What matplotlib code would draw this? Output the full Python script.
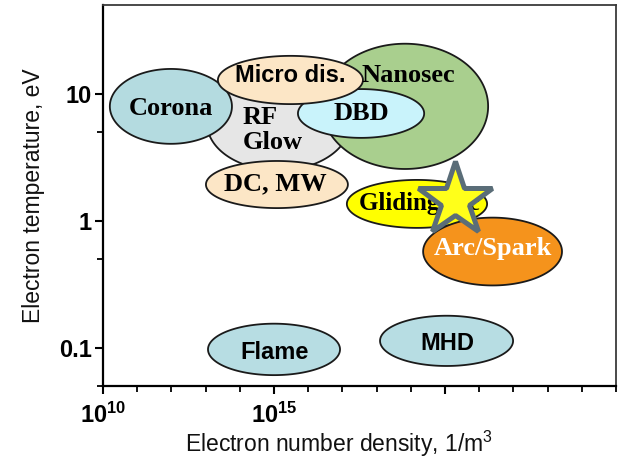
import numpy as np
import matplotlib.pyplot as plt
from matplotlib.ticker import FixedLocator, FixedFormatter, NullFormatter

plt.rcParams['mathtext.fontset'] = 'custom'
plt.rcParams['mathtext.rm'] = 'Liberation Sans'
plt.rcParams['mathtext.bf'] = 'Liberation Sans:bold'

# Discharge regions: electron density range (log10 of 1/m^3) and temperature range (eV)
regions = ['RF Glow', 'Nanosec', 'DBD', 'Corona', 'Micro dis.', 'DC, MW',
           'Gliding arc', 'Arc/Spark', 'Flame', 'MHD']
n_lo = [13.04, 16.40, 15.70, 10.20, 13.36, 13.01, 17.13, 19.36, 13.07, 18.10]
n_hi = [17.22, 21.26, 19.39, 13.77, 17.60, 17.16, 21.23, 23.42, 16.93, 21.99]
T_lo = [2.5, 2.56, 4.5, 4.04, 8.3, 1.26, 0.88, 0.31, 0.061, 0.072]
T_hi = [13.9, 24.8, 10.9, 15.7, 19.9, 2.96, 2.1, 1.06, 0.155, 0.179]
fills = ['#e6e6e6', '#a9cf8e', '#c9f3fb', '#b4dbe0', '#fce6c6', '#fce6c6',
         '#ffff00', '#f5931c', '#b7dde3', '#b7dde3']

# label text, anchor (log10 n, T), colour, serif or sans
labels = ['RF\nGlow', 'Nanosec', 'DBD', 'Corona', 'Micro dis.', 'DC, MW',
          'Gliding arc', 'Arc/Spark', 'Flame', 'MHD']
label_n = [14.09, 18.92, 17.54, 11.99, 15.47, 15.03, 19.25, 21.40, 15.03, 20.06]
label_T = [5.2, 13.9, 6.97, 7.6, 13.9, 1.95, 1.36, 0.61, 0.0914, 0.109]
label_color = ['k', 'k', 'k', 'k', 'k', 'k', 'k', 'white', 'k', 'k']
label_serif = [True, True, True, True, False, True, True, True, False, False]

# highlighted operating point
star_n = 20.29
star_T = 1.46

fig = plt.figure(figsize=(6.19, 4.58), dpi=100)
ax = fig.add_axes([0.1664, 0.157, 0.8288, 0.832])
ax.set_xscale('log')
ax.set_yscale('log')
ax.set_xlim(1e10, 1e25)
ax.set_ylim(0.05, 50)

t = np.linspace(0, 2 * np.pi, 300)
for i in range(len(regions)):
    cx = (n_lo[i] + n_hi[i]) / 2
    a = (n_hi[i] - n_lo[i]) / 2
    cy = (np.log10(T_lo[i]) + np.log10(T_hi[i])) / 2
    b = (np.log10(T_hi[i]) - np.log10(T_lo[i])) / 2
    ax.fill(10 ** (cx + a * np.cos(t)), 10 ** (cy + b * np.sin(t)),
            facecolor=fills[i], edgecolor='#1a1a1a', linewidth=1.3, zorder=2 + i)

for i in range(len(labels)):
    fam = 'Liberation Serif' if label_serif[i] else 'Liberation Sans'
    size = 19 if label_serif[i] else 17
    if labels[i] == 'Gliding arc':
        size = 18
    ha = 'left' if labels[i] == 'RF\nGlow' else 'center'
    ax.text(10 ** label_n[i], label_T[i], labels[i], family=fam, weight='bold',
            fontsize=size, color=label_color[i], ha=ha, va='center',
            linespacing=1.1, zorder=20 if labels[i] == 'Gliding arc' else 30)

ax.plot(10 ** star_n, star_T, marker='*', markersize=56, markerfacecolor='#ffff1a',
        markeredgecolor='#5a6d78', markeredgewidth=3.6, zorder=25, clip_on=False)

# axes styling
ax.xaxis.set_major_locator(FixedLocator([1e10, 1e15, 1e20]))
ax.xaxis.set_major_formatter(FixedFormatter([r'$\mathbf{10^{10}}$', r'$\mathbf{10^{15}}$', '']))
ax.xaxis.set_minor_locator(FixedLocator([10.0 ** k for k in range(11, 26) if k not in (15, 20)]))
ax.xaxis.set_minor_formatter(NullFormatter())
ax.yaxis.set_major_locator(FixedLocator([0.1, 1, 10]))
ax.yaxis.set_major_formatter(FixedFormatter(['0.1', '1', '10']))
ax.yaxis.set_minor_locator(FixedLocator([0.05, 0.5, 5]))
ax.yaxis.set_minor_formatter(NullFormatter())

for lab in ax.get_yticklabels():
    lab.set_fontfamily('Liberation Sans')
    lab.set_fontweight('bold')
ax.tick_params(axis='both', which='major', direction='out', length=6, width=1.5,
               labelsize=17, color='k')
ax.tick_params(axis='both', which='minor', direction='out', length=4, width=1.3, color='k')
ax.tick_params(axis='x', which='major', pad=6)
ax.tick_params(axis='y', which='major', pad=2)

for side in ('left', 'bottom'):
    ax.spines[side].set_linewidth(1.6)
    ax.spines[side].set_color('k')
for side in ('top', 'right'):
    ax.spines[side].set_linewidth(1.3)
    ax.spines[side].set_color('#3a3a3a')

ax.set_xlabel('Electron number density, 1/m$^3$', family='Liberation Sans',
              fontsize=16.5, color='#111111')
ax.set_ylabel('Electron temperature, eV', family='Liberation Sans', fontsize=16.5,
              color='#111111')
ax.xaxis.set_label_coords(0.46, -0.112)
ax.yaxis.set_label_coords(-0.113, 0.5)

fig.savefig('out.png', dpi=100)
